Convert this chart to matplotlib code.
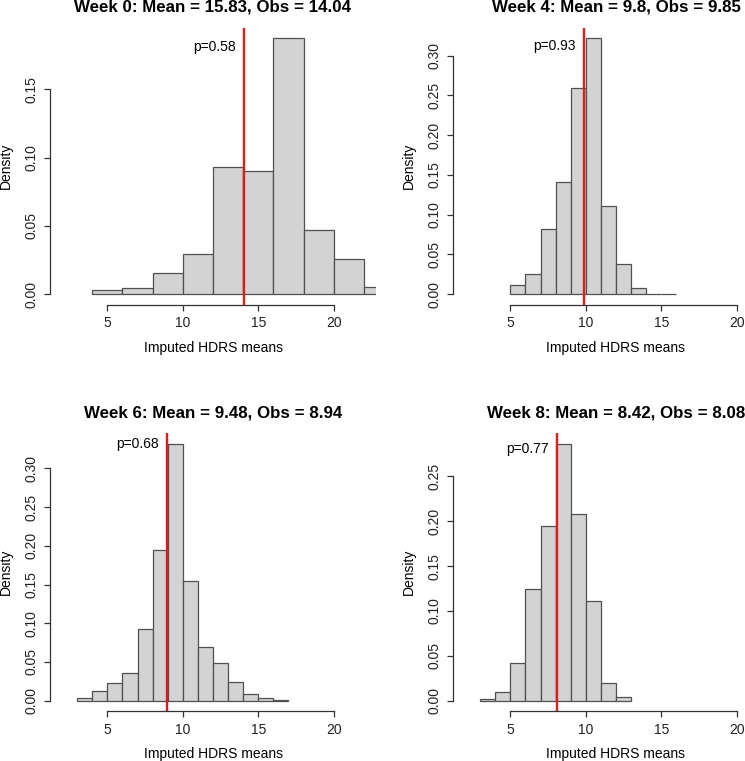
import numpy as np
import matplotlib.pyplot as plt
from matplotlib.ticker import MultipleLocator, FormatStrFormatter

plt.rcParams['font.family'] = ['Liberation Sans', 'DejaVu Sans']

# Histogram densities (left bin edges, bin width, density)
week0_edges = [4, 6, 8, 10, 12, 14, 16, 18, 20, 22]
week0_dens = [0.0032, 0.0049, 0.0159, 0.0298, 0.0929, 0.0905, 0.1876, 0.0473, 0.0261, 0.0051]

week4_edges = [5, 6, 7, 8, 9, 10, 11, 12, 13, 14, 15]
week4_dens = [0.0117, 0.0251, 0.0825, 0.1416, 0.2597, 0.3222, 0.1106, 0.0385, 0.0084, 0.0, 0.0008]

week6_edges = [3, 4, 5, 6, 7, 8, 9, 10, 11, 12, 13, 14, 15, 16]
week6_dens = [0.0035, 0.0129, 0.0224, 0.0354, 0.0928, 0.1946, 0.3319, 0.1545,
              0.0695, 0.0483, 0.0242, 0.0086, 0.0035, 0.0009]

week8_edges = [3, 4, 5, 6, 7, 8, 9, 10, 11, 12]
week8_dens = [0.0015, 0.0097, 0.0420, 0.1243, 0.1942, 0.2865, 0.2076, 0.1112, 0.0197, 0.0041]

weeks = [0, 4, 6, 8]
means = ["15.83", "9.8", "9.48", "8.42"]
obs = [14.04, 9.85, 8.94, 8.08]
pvals = ["0.58", "0.93", "0.68", "0.77"]
p_y = [0.181, 0.312, 0.332, 0.280]
widths = [2, 1, 1, 1]
edges = [week0_edges, week4_edges, week6_edges, week8_edges]
dens = [week0_dens, week4_dens, week6_dens, week8_dens]
ytop = [0.15, 0.30, 0.30, 0.25]

W, H = 745, 761
fig = plt.figure(figsize=(W / 100, H / 100), dpi=100)

# panel boxes in pixels: left, top, bottom
boxes = [(50, 27.7, 304.5), (453, 27.7, 304.5), (50, 433.3, 711), (453, 433.3, 711)]
pw = 326

for i in range(4):
    left, top, bot = boxes[i]
    ph = bot - top
    ax = fig.add_axes([left / W, 1 - bot / H, pw / W, ph / H])
    ax.patch.set_visible(False)
    ax.bar(edges[i], dens[i], width=widths[i], align='edge',
           color='#d3d3d3', edgecolor='#505050', linewidth=0.9)
    ax.axvline(obs[i], color='#dd1c1c', linewidth=1.7, zorder=5)
    ax.annotate("p=" + pvals[i], (obs[i], p_y[i]), xytext=(-6, 0),
                textcoords='offset points', ha='right', va='center', fontsize=10)

    ymax = max(dens[i])
    ax.set_xlim(1.2, 22.8)
    ax.set_ylim(-0.04 * ymax, 1.04 * ymax)

    for s in ['top', 'right']:
        ax.spines[s].set_visible(False)
    ax.spines['bottom'].set_bounds(5, 20)
    ax.spines['left'].set_bounds(0, ytop[i])
    for s in ['bottom', 'left']:
        ax.spines[s].set_color('#333333')
        ax.spines[s].set_linewidth(0.9)

    ax.set_xticks([5, 10, 15, 20])
    ax.yaxis.set_major_locator(MultipleLocator(0.05))
    ax.yaxis.set_major_formatter(FormatStrFormatter('%.2f'))
    ax.tick_params(direction='out', length=4.5, width=0.9, color='#333333',
                   labelsize=10, labelcolor='#222222')
    ax.tick_params(axis='x', pad=4)
    ax.tick_params(axis='y', pad=4)
    for lab in ax.get_yticklabels():
        lab.set_rotation(90)
        lab.set_va('center')

    ax.text(0.5, 1 + 20.5 / ph, "Week %d: Mean = %s, Obs = %s" % (weeks[i], means[i], "%g" % obs[i]),
            transform=ax.transAxes, ha='center', va='center',
            fontsize=12.2, fontweight='bold')
    ax.text(0.5, -43 / ph, "Imputed HDRS means", transform=ax.transAxes,
            ha='center', va='center', fontsize=10)
    ax.text(-44 / pw, 0.5, "Density", transform=ax.transAxes, rotation=90,
            ha='center', va='center', fontsize=10)

fig.savefig("out.png", dpi=100)
